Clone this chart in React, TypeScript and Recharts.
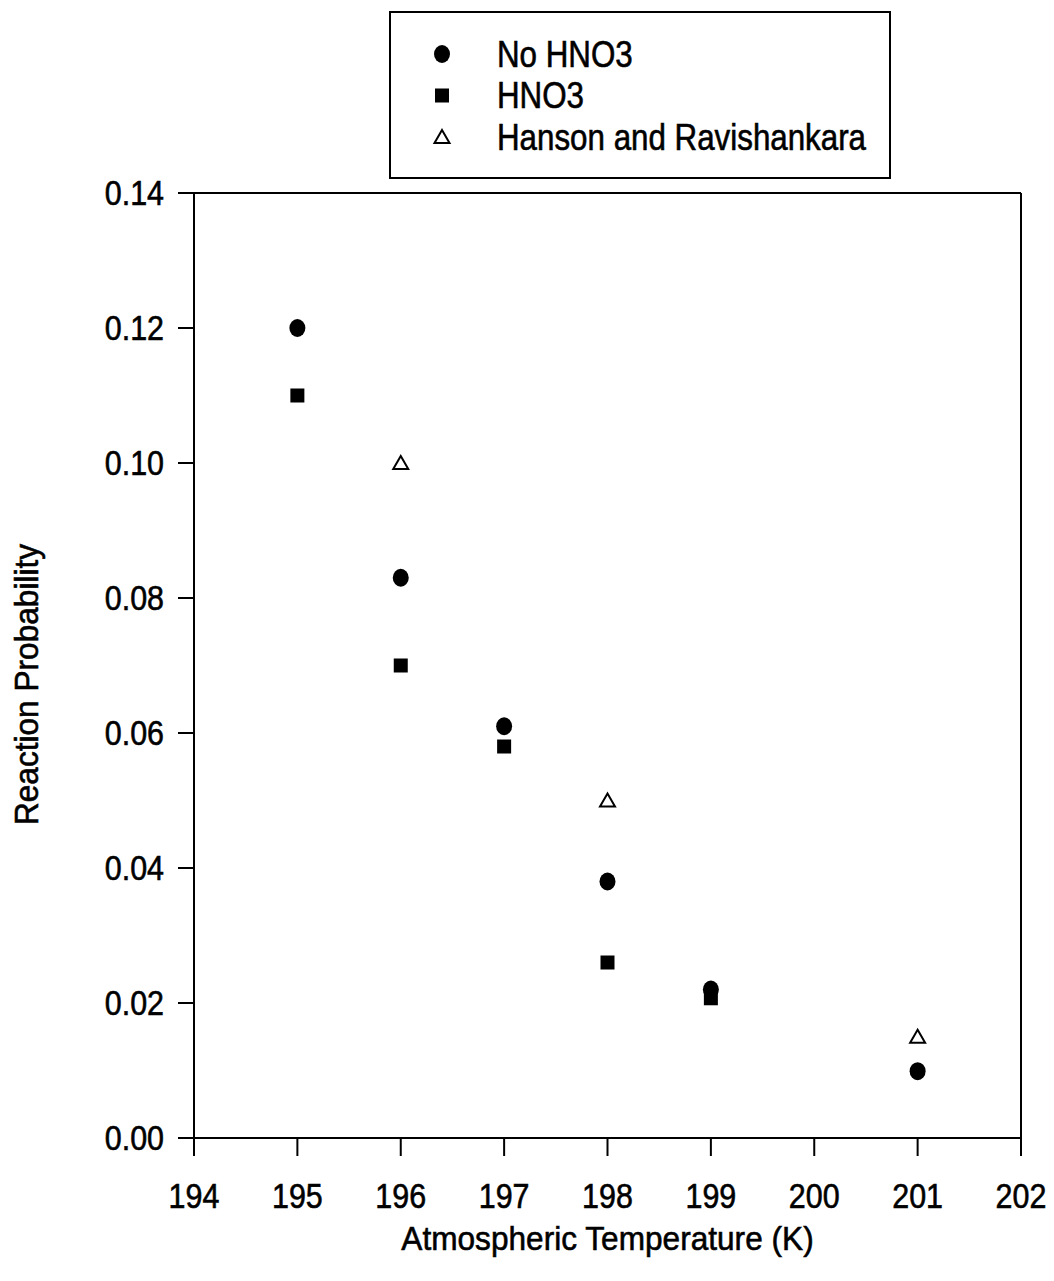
import React from "react";
import {
  ScatterChart,
  Scatter,
  XAxis,
  YAxis,
  ReferenceLine,
  Label,
} from "recharts";

const noHno3 = [
  { t: 195, p: 0.12 },
  { t: 196, p: 0.083 },
  { t: 197, p: 0.061 },
  { t: 198, p: 0.038 },
  { t: 199, p: 0.022 },
  { t: 201, p: 0.0099 },
];

const hno3 = [
  { t: 195, p: 0.11 },
  { t: 196, p: 0.07 },
  { t: 197, p: 0.058 },
  { t: 198, p: 0.026 },
  { t: 199, p: 0.0207 },
];

const hanson = [
  { t: 196, p: 0.1 },
  { t: 198, p: 0.05 },
  { t: 201, p: 0.015 },
];

const seriesNames = ["No HNO3", "HNO3", "Hanson and Ravishankara"];
const xTicks = [194, 195, 196, 197, 198, 199, 200, 201, 202];
const yTicks = [0, 0.02, 0.04, 0.06, 0.08, 0.1, 0.12, 0.14];

const FONT = "'Liberation Sans', Arial, sans-serif";
const SX = 0.87; // the original type is narrow
// scanned text looks a bit heavier than plain regular weight
const ink = { fill: "#000", stroke: "#000", strokeWidth: 0.6 };

const Dot = ({ cx, cy }: any) => <ellipse cx={cx} cy={cy} rx={8} ry={9} fill="#000" />;
const Box = ({ cx, cy }: any) => <rect x={cx - 7} y={cy - 7} width={14} height={14} fill="#000" />;
const Tri = ({ cx, cy }: any) => (
  <polygon
    points={`${cx},${cy - 7} ${cx + 7.5},${cy + 6} ${cx - 7.5},${cy + 6}`}
    fill="#fff"
    stroke="#000"
    strokeWidth={2}
  />
);
const icons = [Dot, Box, Tri];

const XTick = ({ x, y, payload }: any) => (
  <g transform={`translate(${x},${y})`}>
    <text transform={`scale(${SX},1)`} textAnchor="middle" dy="0.71em" fontFamily={FONT} fontSize={35} {...ink}>
      {payload.value}
    </text>
  </g>
);

const YTick = ({ x, y, payload }: any) => (
  <g transform={`translate(${x},${y})`}>
    <text transform={`scale(${SX},1)`} textAnchor="end" dy="0.355em" fontFamily={FONT} fontSize={35} {...ink}>
      {Number(payload.value).toFixed(2)}
    </text>
  </g>
);

const LegendBox = () => (
  <svg
    width={502}
    height={168}
    style={{ position: "absolute", left: 389, top: 11 }}
  >
    <rect x={1} y={1} width={500} height={166} fill="#fff" stroke="#000" strokeWidth={2} />
    {seriesNames.map((name, i) => {
      const Icon = icons[i];
      const cy = 43 + i * 41.5;
      return (
        <g key={name}>
          <Icon cx={53} cy={cy} />
          <g transform={`translate(108,${cy})`}>
            <text transform={`scale(${SX},1)`} dy="0.355em" fontFamily={FONT} fontSize={36} {...ink}>
              {name}
            </text>
          </g>
        </g>
      );
    })}
  </svg>
);

export default function App() {
  return (
    <div
      style={{
        position: "absolute",
        left: 0,
        top: 0,
        width: 1054,
        height: 1281,
        background: "#fff",
      }}
    >
      <ScatterChart
        width={1054}
        height={1281}
        margin={{ top: 193, right: 33, bottom: 73, left: 114 }}
      >
        <XAxis
          type="number"
          dataKey="t"
          domain={[194, 202]}
          ticks={xTicks}
          allowDataOverflow
          height={70}
          tickSize={18}
          tickMargin={27}
          stroke="#000"
          strokeWidth={2}
          tick={<XTick />}
        >
          <Label
            content={({ viewBox }: any) => (
              <g transform={`translate(${viewBox.x + viewBox.width / 2},1250)`}>
                <text transform="scale(0.93,1)" textAnchor="middle" fontFamily={FONT} fontSize={34} {...ink}>
                  Atmospheric Temperature (K)
                </text>
              </g>
            )}
          />
        </XAxis>
        <YAxis
          type="number"
          dataKey="p"
          domain={[0, 0.14]}
          ticks={yTicks}
          allowDataOverflow
          width={80}
          tickSize={16}
          tickMargin={14}
          stroke="#000"
          strokeWidth={2}
          tick={<YTick />}
        >
          <Label
            content={({ viewBox }: any) => (
              <g transform={`translate(26,${viewBox.y + viewBox.height / 2 + 19}) rotate(-90)`}>
                <text transform="scale(0.93,1)" textAnchor="middle" dy="0.355em" fontFamily={FONT} fontSize={34} {...ink}>
                  Reaction Probability
                </text>
              </g>
            )}
          />
        </YAxis>
        <ReferenceLine y={0.14} stroke="#000" strokeWidth={2} />
        <ReferenceLine x={202} stroke="#000" strokeWidth={2} />
        <Scatter name={seriesNames[0]} data={noHno3} shape={Dot} isAnimationActive={false} />
        <Scatter name={seriesNames[1]} data={hno3} shape={Box} isAnimationActive={false} />
        <Scatter name={seriesNames[2]} data={hanson} shape={Tri} isAnimationActive={false} />
      </ScatterChart>
      <LegendBox />
    </div>
  );
}
